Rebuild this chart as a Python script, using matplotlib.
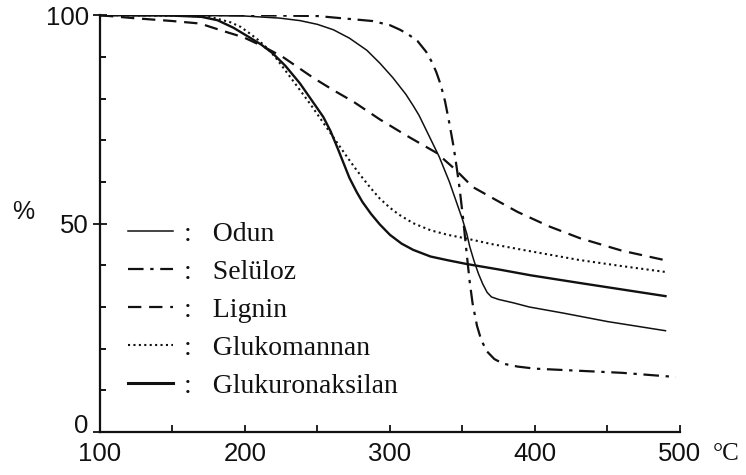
import matplotlib
matplotlib.use("Agg")
import matplotlib.pyplot as plt
from matplotlib.ticker import MultipleLocator
from matplotlib.lines import Line2D
from matplotlib.transforms import ScaledTranslation

# Thermogravimetric curves: residual mass (%) versus temperature (°C)
odun_x = [100, 150, 200, 224, 238, 250, 261, 272, 284, 293, 302, 311, 316, 320, 328, 334,
          341, 346, 350, 353, 355, 358, 361, 364, 367, 370, 375, 385, 396, 420, 450, 490]
odun_y = [100, 100, 99.8, 99.3, 98.7, 97.8, 96.5, 94.5, 91.6, 88.5, 85, 81, 78.3, 76, 70.3, 66,
          60, 55, 51, 47.5, 44.5, 41, 38, 35.5, 33.5, 32.4, 31.8, 31, 30, 28.5, 26.5, 24.3]

seluloz_x = [100, 200, 250, 288, 300, 307, 313, 319, 325, 329, 332, 335, 338, 341, 344,
             346, 348, 350.5, 353, 355, 357, 360, 363, 367, 372, 378, 388, 400, 430, 460, 497]
seluloz_y = [100, 100, 99.8, 98.6, 97.6, 96.5, 95.3, 93.8, 91.2, 88.7, 86.3, 83.3, 79.3, 74, 68.2,
             63.5, 58.5, 51, 42.5, 36, 30.8, 25.5, 22, 19.3, 17.5, 16.4, 15.7, 15.2, 14.7, 14.2, 13.2]

lignin_x = [100, 123, 150, 169, 185, 199, 212, 226, 247, 261, 275, 293, 311, 332, 345,
            357, 375, 388, 410, 431, 460, 490]
lignin_y = [100, 99.3, 98.6, 98, 96.2, 94.7, 92.6, 90, 85, 82, 79.2, 75, 71.2, 67, 63,
            58.8, 55.3, 52.8, 49.3, 46.5, 43.5, 41.2]

glukomannan_x = [100, 150, 175, 190, 197, 203, 209, 215, 221, 226, 232, 238, 245, 252,
                 259, 265, 270, 276, 281, 287, 293, 300, 306, 316, 328, 340, 353, 370,
                 390, 430, 460, 490]
glukomannan_y = [100, 99.9, 99.7, 98.3, 97.2, 95.7, 94.1, 92.2, 89.9, 87.6, 84.8, 82, 78.7, 75.2,
                 71.7, 68.7, 66.2, 63.3, 61, 58.4, 56, 53.8, 52.2, 50.1, 48.4, 47.3, 46.4, 45.1,
                 43.8, 41.3, 39.8, 38.4]

glukuron_x = [100, 150, 170, 181, 192, 203, 211, 219, 228, 238, 246, 254, 259, 264, 268,
              272, 277, 281, 287, 293, 300, 308, 316, 328, 340, 353, 375, 397, 430, 460, 490]
glukuron_y = [100, 99.9, 99.6, 98.8, 97, 94.7, 93, 90.9, 87.8, 83.6, 79.6, 75.6, 72.2, 68, 64.5,
              61, 57.6, 55.2, 52.3, 49.8, 47.3, 45.2, 43.7, 42.1, 41.2, 40.3, 39, 37.6, 35.8,
              34.2, 32.6]

labels = ["Odun", "Selüloz", "Lignin", "Glukomannan", "Glukuronaksilan"]
x_ticks = [100, 200, 300, 400, 500]
y_ticks = [0, 50, 100]

fig = plt.figure(figsize=(7.46, 4.75), dpi=100)
ax = fig.add_axes([0.134, 0.0905, 0.7775, 0.8775])

ink = "#111111"
styles = [
    dict(lw=1.1, ls="-"),
    dict(lw=1.6, dashes=(7, 3, 1.5, 3)),
    dict(lw=1.6, dashes=(6, 3.5)),
    dict(lw=1.5, dashes=(1, 1.6)),
    dict(lw=1.7, ls="-"),
]
series = [(odun_x, odun_y), (seluloz_x, seluloz_y), (lignin_x, lignin_y),
          (glukomannan_x, glukomannan_y), (glukuron_x, glukuron_y)]
for (xs, ys), st in zip(series, styles):
    ax.plot(xs, ys, color=ink, solid_joinstyle="round", **st)

ax.set_xlim(100, 500)
ax.set_ylim(0, 100)
ax.spines["top"].set_visible(False)
ax.spines["right"].set_visible(False)
for s in ("left", "bottom"):
    ax.spines[s].set_linewidth(1.6)
    ax.spines[s].set_color(ink)

ax.set_xticks(x_ticks)
ax.set_yticks(y_ticks)
ax.xaxis.set_minor_locator(MultipleLocator(50))
ax.yaxis.set_minor_locator(MultipleLocator(10))
ax.tick_params(axis="x", which="both", direction="in", length=5, width=1.3,
               pad=7, labelsize=18.5, colors=ink)
ax.tick_params(axis="y", which="major", direction="inout", length=10, width=1.3,
               pad=3, labelsize=18.5, colors=ink)
ax.tick_params(axis="y", which="minor", direction="in", length=4, width=1.3)
for lab in ax.get_xticklabels() + ax.get_yticklabels():
    lab.set_fontfamily("Liberation Sans")

# lift the "0" on the y axis clear of the x-axis labels
zero_lab = ax.yaxis.get_major_ticks()[0].label1
zero_lab.set_transform(zero_lab.get_transform()
                       + ScaledTranslation(0, 6 / 72, fig.dpi_scale_trans))

fig.text(0.016, 0.553, "%", fontsize=18, family="Liberation Sans", color=ink,
         va="center", ha="left")
fig.text(0.955, 0.045, "°C", fontsize=18, family="Liberation Serif", color=ink,
         va="center", ha="left")

handles = [Line2D([], [], color=ink, **st) for st in styles]
handles[-1].set_linewidth(2.2)
leg = ax.legend(handles, [":   " + t for t in labels], loc="upper left",
                bbox_to_anchor=(0.049, 0.505), frameon=False,
                prop={"family": "Liberation Serif", "size": 20},
                handlelength=1.6, handletextpad=0.4, labelspacing=0.45,
                borderpad=0, borderaxespad=0)
for t in leg.get_texts():
    t.set_color(ink)

fig.savefig("out.png", dpi=100)
